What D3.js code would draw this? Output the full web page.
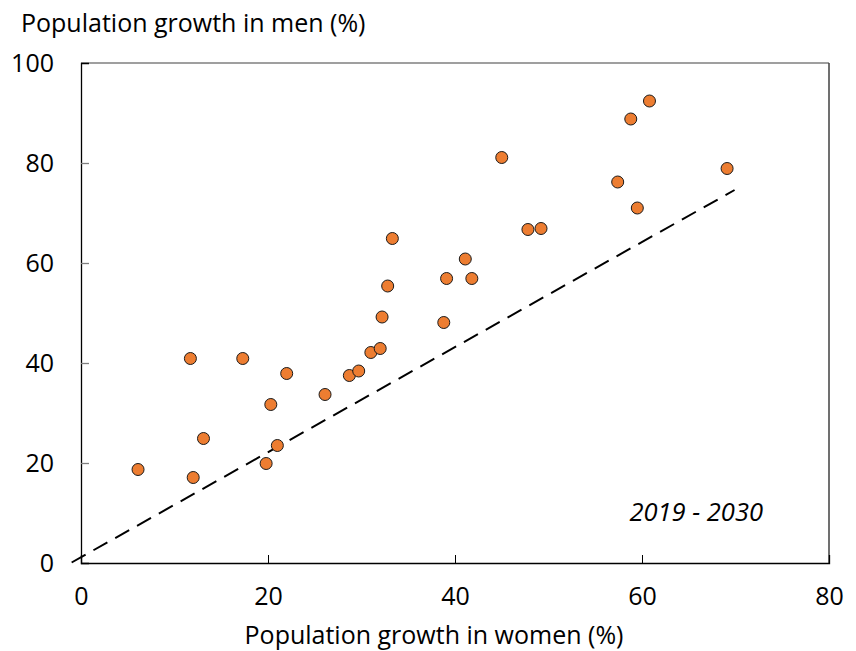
<!DOCTYPE html>
<html>
<head>
<meta charset="utf-8">
<script src="https://cdn.jsdelivr.net/npm/d3@7"></script>
<style>
  html, body { margin: 0; padding: 0; background: #fff; }
  text { font-family: "Open Sans", "Noto Sans", sans-serif; fill: #000; }
</style>
</head>
<body>
<svg id="chart" width="856" height="651"></svg>
<script>
// ---- data ----
const womenGrowth = [6.1, 11.7, 12.0, 13.1, 17.3, 20.3, 19.8, 21.0, 22.0, 26.1,
  28.7, 29.7, 31.0, 32.0, 32.2, 32.8, 33.3, 38.8, 39.1, 41.1, 41.8, 45.0, 47.8,
  49.2, 57.4, 58.8, 59.5, 60.8, 69.1];
const menGrowth = [18.7, 40.9, 17.1, 24.9, 40.9, 31.7, 19.9, 23.5, 37.9, 33.7,
  37.5, 38.4, 42.1, 42.9, 49.2, 55.4, 64.9, 48.1, 56.9, 60.8, 56.9, 81.1, 66.7,
  66.9, 76.2, 88.8, 71.0, 92.4, 78.9];
const refLineX = [-1, 69.9];
const refLineY = [0.1, 74.6];
const xTicks = [0, 20, 40, 60, 80];
const yTicks = [0, 20, 40, 60, 80, 100];
const xTitle = "Population growth in women (%)";
const yTitle = "Population growth in men (%)";
const periodLabel = "2019 - 2030";

// ---- layout ----
const svg = d3.select("#chart");
const mLeft = 81, mRight = 829, mTop = 63, mBottom = 563;
const x = d3.scaleLinear().domain([0, 80]).range([mLeft, mRight]);
const y = d3.scaleLinear().domain([0, 100]).range([mBottom, mTop]);
const fs = "25px";

// frame (top & right)
svg.append("line").attr("x1", mLeft).attr("x2", mRight).attr("y1", mTop).attr("y2", mTop)
  .attr("stroke", "#7f7f7f").attr("stroke-width", 1.5);
svg.append("line").attr("x1", mRight).attr("x2", mRight).attr("y1", mTop).attr("y2", mBottom)
  .attr("stroke", "#404040").attr("stroke-width", 1.5);

// y axis
const yAxis = svg.append("g").attr("transform", `translate(${mLeft},0)`)
  .call(d3.axisLeft(y).tickValues(yTicks).tickSize(-8).tickPadding(27).tickFormat(d3.format("d")));
yAxis.select(".domain").attr("stroke", "#000").attr("stroke-width", 1.3);
yAxis.selectAll(".tick line").attr("stroke", "#7f7f7f").attr("stroke-width", 1.3)
  .filter(d => d === 0 || d === 100).remove();
yAxis.selectAll(".tick text").style("font-size", fs).style("font-family", '"Open Sans", sans-serif').attr("fill", "#000");

// x axis
const xAxis = svg.append("g").attr("transform", `translate(0,${mBottom})`)
  .call(d3.axisBottom(x).tickValues(xTicks).tickSize(-8).tickPadding(24).tickFormat(d3.format("d")));
xAxis.select(".domain").attr("stroke", "#000").attr("stroke-width", 1.3);
xAxis.selectAll(".tick line").attr("stroke", "#000").attr("stroke-width", 1)
  .filter(d => d === 0 || d === 80).remove();
xAxis.selectAll(".tick text").style("font-size", fs).style("font-family", '"Open Sans", sans-serif').attr("fill", "#000");

// dashed reference line
svg.append("line")
  .attr("x1", x(refLineX[0])).attr("y1", y(refLineY[0]))
  .attr("x2", x(refLineX[1])).attr("y2", y(refLineY[1]))
  .attr("stroke", "#000").attr("stroke-width", 2).attr("stroke-dasharray", "16,9");

// points
const pts = womenGrowth.map((w, i) => ({ w, m: menGrowth[i] }));
svg.append("g").selectAll("circle").data(pts).join("circle")
  .attr("cx", d => x(d.w)).attr("cy", d => y(d.m)).attr("r", 6)
  .attr("fill", "#ED7D31").attr("stroke", "#1a1a1a").attr("stroke-width", 1);

// titles
svg.append("text").attr("x", 21).attr("y", 32).style("font-size", fs).text(yTitle);
svg.append("text").attr("x", 434).attr("y", 644).attr("text-anchor", "middle")
  .style("font-size", fs).text(xTitle);
svg.append("text").attr("x", 763).attr("y", 521).attr("text-anchor", "end")
  .style("font-size", "25.5px").style("font-style", "italic").text(periodLabel);
</script>
</body>
</html>
